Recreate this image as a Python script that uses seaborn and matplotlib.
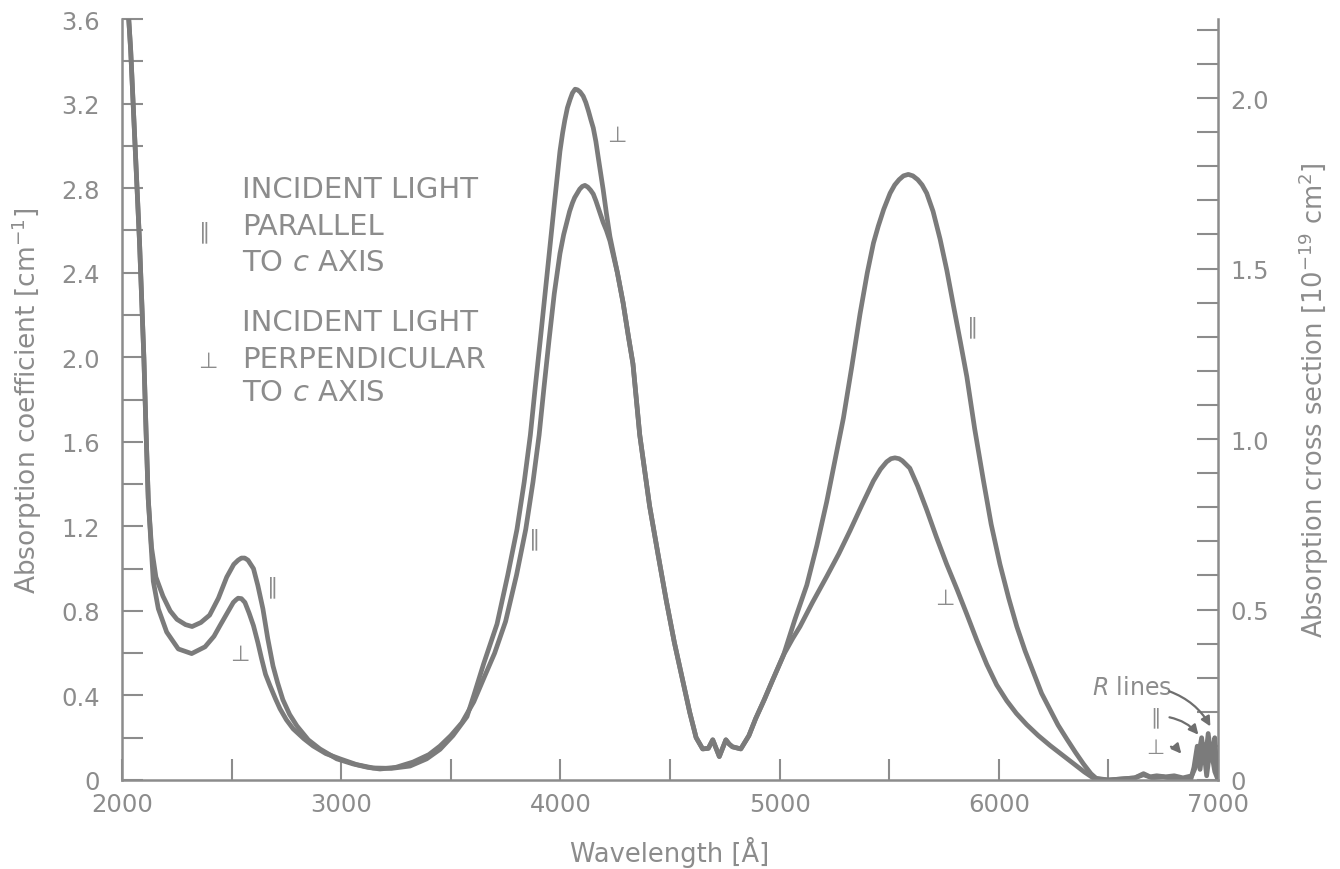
import matplotlib
matplotlib.use("Agg")
import matplotlib.pyplot as plt
import seaborn as sns
import pandas as pd
from matplotlib.ticker import MultipleLocator, FixedLocator, FuncFormatter

# values (wavelength in angstrom, absorption coefficient in cm^-1)
wl_par = [2025, 2040, 2060, 2080, 2100, 2110, 2120, 2135, 2155, 2187, 2220, 2251, 2290, 2320,
          2360, 2400, 2440, 2478, 2510, 2530, 2545, 2560, 2575, 2600, 2620, 2643, 2665, 2689,
          2710, 2734, 2765, 2798, 2850, 2903, 2980, 3054, 3120, 3177, 3250, 3328, 3400, 3450,
          3500, 3550, 3605, 3650, 3700, 3750, 3800, 3842, 3875, 3903, 3925, 3948, 3972, 3998,
          4015, 4029, 4042, 4055, 4065, 4075, 4088, 4100, 4112, 4125, 4138, 4150, 4162, 4175,
          4185, 4195, 4210, 4226, 4260, 4286, 4310, 4331, 4362, 4385, 4407, 4445, 4483, 4520,
          4558, 4590, 4619, 4649, 4675, 4695, 4710, 4725, 4740, 4755, 4770, 4785, 4823, 4860,
          4891, 4930, 4967, 5017, 5070, 5124, 5170, 5215, 5250, 5291, 5330, 5367, 5400, 5428,
          5450, 5475, 5504, 5525, 5545, 5565, 5587, 5608, 5630, 5650, 5671, 5700, 5732, 5763,
          5793, 5825, 5854, 5890, 5930, 5965, 6005, 6045, 6082, 6120, 6158, 6195, 6234, 6270,
          6310, 6350, 6386, 6420, 6447, 6500, 6560, 6620, 6660, 6690, 6720, 6760, 6800, 6840,
          6880, 6905, 6925, 6940, 6955, 6970, 6985, 6995]
abs_par = [3.70, 3.45, 3.00, 2.55, 2.00, 1.65, 1.33, 1.10, 0.96, 0.87, 0.80, 0.76, 0.735, 0.726,
           0.745, 0.78, 0.86, 0.96, 1.02, 1.04, 1.05, 1.05, 1.04, 1.00, 0.92, 0.81, 0.67, 0.54,
           0.46, 0.38, 0.31, 0.256, 0.19, 0.147, 0.10, 0.076, 0.06, 0.052, 0.06, 0.085, 0.12, 0.16,
           0.21, 0.27, 0.37, 0.48, 0.60, 0.75, 0.97, 1.186, 1.41, 1.632, 1.855, 2.079, 2.30, 2.49,
           2.58, 2.638, 2.69, 2.73, 2.755, 2.772, 2.795, 2.808, 2.813, 2.805, 2.79, 2.772, 2.74, 2.70,
           2.67, 2.638, 2.60, 2.55, 2.40, 2.258, 2.10, 1.969, 1.632, 1.46, 1.296, 1.07, 0.849, 0.65,
           0.47, 0.32, 0.201, 0.147, 0.15, 0.19, 0.15, 0.111, 0.15, 0.19, 0.17, 0.157, 0.147, 0.21,
           0.291, 0.38, 0.47, 0.588, 0.76, 0.922, 1.11, 1.317, 1.50, 1.712, 1.96, 2.206, 2.40, 2.54,
           2.62, 2.70, 2.776, 2.815, 2.84, 2.858, 2.865, 2.858, 2.84, 2.815, 2.776, 2.69, 2.559, 2.41,
           2.244, 2.07, 1.908, 1.66, 1.415, 1.21, 1.021, 0.86, 0.726, 0.61, 0.508, 0.41, 0.332, 0.26,
           0.194, 0.13, 0.076, 0.03, 0.005, 0.0, 0.005, 0.01, 0.03, 0.015, 0.02, 0.015, 0.02, 0.01,
           0.02, 0.08, 0.20, 0.08, 0.22, 0.10, 0.20, 0.03]

wl_perp = [2025, 2040, 2060, 2080, 2100, 2110, 2120, 2135, 2143, 2166, 2204, 2257, 2318, 2379,
           2420, 2447, 2480, 2508, 2520, 2530, 2545, 2561, 2580, 2600, 2620, 2637, 2655, 2675,
           2700, 2721, 2750, 2781, 2830, 2872, 2930, 2995, 3070, 3145, 3230, 3314, 3390, 3451,
           3510, 3574, 3605, 3650, 3711, 3760, 3802, 3835, 3863, 3885, 3908, 3930, 3953, 3975,
           3998, 4010, 4020, 4032, 4044, 4055, 4067, 4078, 4090, 4104, 4116, 4128, 4140, 4150,
           4162, 4172, 4184, 4195, 4210, 4226, 4260, 4286, 4310, 4331, 4362, 4385, 4407, 4445,
           4483, 4520, 4558, 4590, 4619, 4649, 4675, 4695, 4710, 4725, 4740, 4755, 4770, 4785,
           4823, 4860, 4891, 4930, 4967, 5017, 5060, 5093, 5150, 5215, 5270, 5321, 5375, 5428,
           5460, 5488, 5508, 5526, 5545, 5560, 5594, 5630, 5671, 5715, 5762, 5810, 5854, 5900,
           5945, 5990, 6036, 6080, 6127, 6180, 6234, 6290, 6340, 6390, 6430, 6500, 6560, 6620,
           6660, 6700, 6750, 6800, 6850, 6875, 6890, 6905, 6918, 6932, 6948, 6965, 6985, 7000]
abs_perp = [3.70, 3.45, 3.00, 2.55, 2.00, 1.65, 1.33, 1.08, 0.94, 0.81, 0.70, 0.62, 0.598, 0.63,
            0.68, 0.73, 0.79, 0.84, 0.852, 0.86, 0.858, 0.84, 0.79, 0.73, 0.65, 0.574, 0.50, 0.447,
            0.385, 0.337, 0.285, 0.242, 0.195, 0.161, 0.125, 0.10, 0.073, 0.057, 0.055, 0.066, 0.10, 0.145,
            0.21, 0.30, 0.40, 0.55, 0.738, 0.97, 1.186, 1.41, 1.632, 1.855, 2.079, 2.30, 2.526, 2.75,
            2.974, 3.06, 3.12, 3.18, 3.219, 3.25, 3.268, 3.265, 3.255, 3.235, 3.205, 3.165, 3.12, 3.085,
            3.02, 2.95, 2.87, 2.794, 2.68, 2.571, 2.40, 2.258, 2.10, 1.969, 1.632, 1.46, 1.296, 1.07,
            0.849, 0.65, 0.47, 0.32, 0.201, 0.147, 0.15, 0.19, 0.15, 0.111, 0.15, 0.19, 0.17, 0.157,
            0.147, 0.21, 0.291, 0.38, 0.47, 0.59, 0.67, 0.726, 0.84, 0.963, 1.07, 1.179, 1.30, 1.415,
            1.47, 1.505, 1.52, 1.524, 1.52, 1.51, 1.475, 1.39, 1.278, 1.15, 1.021, 0.90, 0.784, 0.66,
            0.547, 0.45, 0.375, 0.315, 0.262, 0.21, 0.163, 0.118, 0.078, 0.038, 0.01, 0.0, 0.005, 0.01,
            0.025, 0.01, 0.015, 0.005, 0.0, 0.0, 0.06, 0.16, 0.05, 0.17, 0.02, 0.16, 0.04, 0.0]

# cross section scale on the right axis relative to the left one
xsec_per_coef = 0.62

line_color = "#7b7b7b"
text_color = "#8c8c8c"

df = pd.concat([
    pd.DataFrame({"wl": wl_par, "coef": abs_par, "pol": "par"}),
    pd.DataFrame({"wl": wl_perp, "coef": abs_perp, "pol": "perp"}),
])

sns.set_style("ticks")
plt.rcParams["font.family"] = ["DejaVu Sans"]
plt.rcParams["mathtext.fontset"] = "custom"
plt.rcParams["mathtext.rm"] = "DejaVu Sans"
plt.rcParams["mathtext.it"] = "DejaVu Sans:italic"
plt.rcParams["mathtext.default"] = "regular"

fig = plt.figure(figsize=(13.4, 8.7), dpi=100)
ax = fig.add_axes([0.091, 0.1023, 0.818, 0.8747])

sns.lineplot(data=df, x="wl", y="coef", hue="pol", units="pol", estimator=None, sort=False,
             palette={"par": line_color, "perp": line_color}, lw=3.4, legend=False, ax=ax)

ax.set_xlim(2000, 7000)
ax.set_ylim(0, 3.6)
ax.spines["top"].set_visible(False)
ax.spines["right"].set_visible(False)
for s in ["left", "bottom"]:
    ax.spines[s].set_color(text_color)
    ax.spines[s].set_linewidth(1.8)

ax.xaxis.set_major_locator(MultipleLocator(1000))
ax.xaxis.set_minor_locator(MultipleLocator(500))
ax.yaxis.set_major_locator(MultipleLocator(0.4))
ax.yaxis.set_minor_locator(MultipleLocator(0.2))
ax.yaxis.set_major_formatter(FuncFormatter(lambda v, p: "0" if abs(v) < 1e-9 else f"{v:.1f}"))
ax.tick_params(which="both", direction="in", length=15, width=1.5, color=text_color,
               labelcolor=text_color, labelsize=17.5)
ax.tick_params(axis="x", pad=9)
ax.tick_params(axis="y", pad=16)

ax.set_xlabel("Wavelength [Å]", color=text_color, fontsize=18.5, labelpad=14)
ax.set_ylabel("Absorption coefficient [cm$^{-1}$]", color=text_color, fontsize=19, labelpad=12)

sec = ax.secondary_yaxis("right", functions=(lambda c: c * xsec_per_coef,
                                             lambda s: s / xsec_per_coef))
sec.yaxis.set_major_locator(FixedLocator([0, 0.5, 1.0, 1.5, 2.0]))
sec.yaxis.set_minor_locator(MultipleLocator(0.1))
sec.yaxis.set_major_formatter(FuncFormatter(lambda v, p: "0" if abs(v) < 1e-9 else f"{v:.1f}"))
sec.tick_params(which="both", direction="in", length=15, width=1.5, color=text_color,
                labelcolor=text_color, labelsize=17.5, pad=9)
sec.spines["right"].set_color(text_color)
sec.spines["right"].set_linewidth(1.8)
sec.set_ylabel("Absorption cross section [10$^{-19}$ cm$^{2}$]", color=text_color,
               fontsize=18.5, labelpad=20)

# legend block
fig.text(0.1806, 0.7816, "INCIDENT LIGHT", color=text_color, fontsize=21, va="center")
fig.text(0.1806, 0.739, "PARALLEL", color=text_color, fontsize=21, va="center")
fig.text(0.1806, 0.698, "TO $\\mathit{c}$ AXIS", color=text_color, fontsize=21, va="center")
fig.text(0.1806, 0.629, "INCIDENT LIGHT", color=text_color, fontsize=21, va="center")
fig.text(0.1806, 0.586, "PERPENDICULAR", color=text_color, fontsize=21, va="center")
fig.text(0.1806, 0.548, "TO $\\mathit{c}$ AXIS", color=text_color, fontsize=21, va="center")
fig.text(0.153, 0.733, "∥", color=text_color, fontsize=16, va="center", ha="center")
fig.text(0.155, 0.584, "⊥", color=text_color, fontsize=16, va="center", ha="center")

# curve labels
for x, y, s in [(4258, 3.05, "⊥"), (3884, 1.143, "∥"), (5882, 2.149, "∥"),
                (5755, 0.859, "⊥"), (2689, 0.916, "∥"), (2538, 0.598, "⊥")]:
    ax.text(x, y, s, color=text_color, fontsize=16, ha="center", va="center")

# R lines annotations
ax.text(6605, 0.441, "$\\mathit{R}$ lines", color=text_color, fontsize=17, ha="center", va="center")
ax.text(6713, 0.30, "∥", color=text_color, fontsize=15, ha="center", va="center")
ax.text(6713, 0.157, "⊥", color=text_color, fontsize=15, ha="center", va="center")
for (x0, y0), (x1, y1) in [((6766, 0.424), (6971, 0.242)),
                           ((6766, 0.299), (6918, 0.204)),
                           ((6773, 0.161), (6840, 0.114))]:
    ax.annotate("", xy=(x1, y1), xytext=(x0, y0),
                arrowprops=dict(arrowstyle="-|>", color="#6e6e6e", lw=1.6,
                                connectionstyle="arc3,rad=-0.2", mutation_scale=14))

fig.savefig("out.png", dpi=100)
